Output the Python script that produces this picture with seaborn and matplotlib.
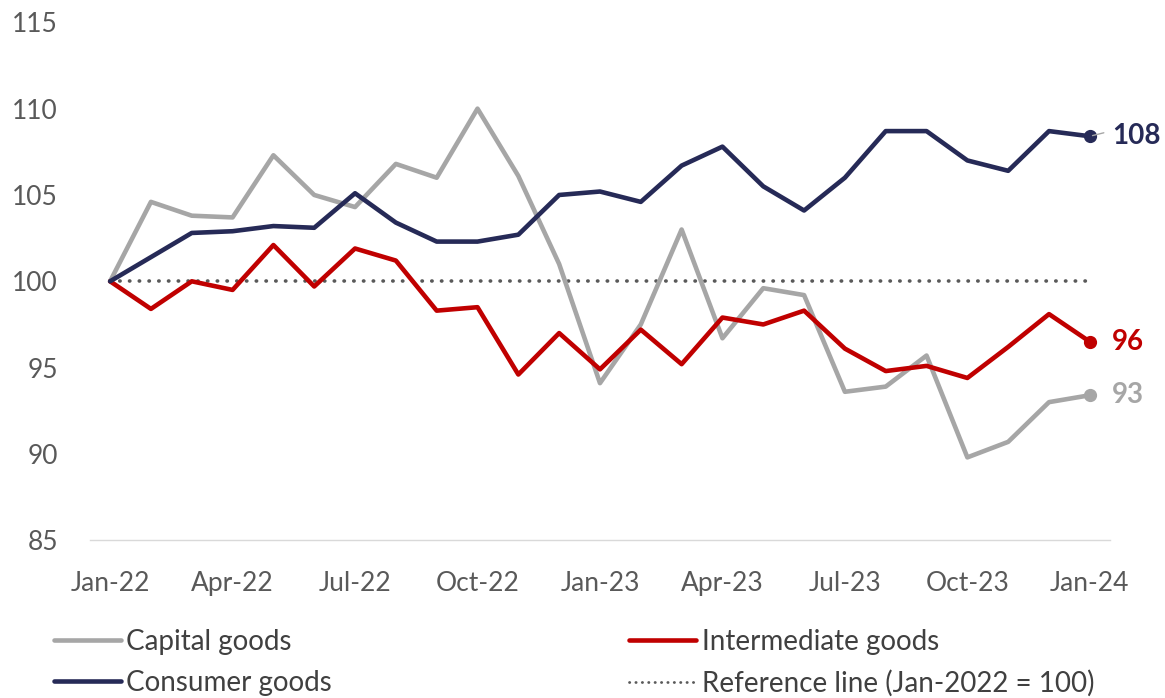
import numpy as np
import pandas as pd
import seaborn as sns
import matplotlib.pyplot as plt
from matplotlib.lines import Line2D

# monthly index values, Jan-2022 = 100
months = pd.date_range('2022-01-01', '2024-01-01', freq='MS').strftime('%b-%y').tolist()

capital = [100.0, 104.6, 103.8, 103.7, 107.3, 105.0, 104.3, 106.8, 106.0, 110.0,
           106.1, 101.0, 94.1, 97.5, 103.0, 96.7, 99.6, 99.2, 93.6, 93.9,
           95.7, 89.8, 90.7, 93.0, 93.4]
consumer = [100.0, 101.4, 102.8, 102.9, 103.2, 103.1, 105.1, 103.4, 102.3, 102.3,
            102.7, 105.0, 105.2, 104.6, 106.7, 107.8, 105.5, 104.1, 106.0, 108.7,
            108.7, 107.0, 106.4, 108.7, 108.4]
intermediate = [100.0, 98.4, 100.0, 99.5, 102.1, 99.7, 101.9, 101.2, 98.3, 98.5,
                94.6, 97.0, 94.9, 97.2, 95.2, 97.9, 97.5, 98.3, 96.1, 94.8,
                95.1, 94.4, 96.2, 98.1, 96.5]
reference = [100.0] * len(months)

series_names = ['Capital goods', 'Consumer goods', 'Intermediate goods']
colors = {'Capital goods': '#A6A6A6', 'Consumer goods': '#262A57', 'Intermediate goods': '#C00000'}

df = pd.DataFrame({
    'idx': list(range(len(months))) * 3,
    'value': capital + consumer + intermediate,
    'series': np.repeat(series_names, len(months)),
})

sns.set_theme(style='white')
plt.rcParams['font.family'] = ['Lato', 'DejaVu Sans']

fig = plt.figure(figsize=(11.65, 6.98), dpi=100)
ax = fig.add_axes([0.077, 0.226, 0.876, 0.742])

# reference line first so it sits beneath the series
ax.plot(range(len(months)), reference, color='#595959', lw=2.6,
        linestyle=(0, (0.1, 2.6)), dash_capstyle='round', zorder=1)

sns.lineplot(data=df, x='idx', y='value', hue='series', palette=colors,
             hue_order=['Capital goods', 'Intermediate goods', 'Consumer goods'],
             lw=3.3, legend=False, ax=ax, zorder=2)

# end point markers and labels
last = len(months) - 1
for name, vals in [('Capital goods', capital), ('Intermediate goods', intermediate),
                   ('Consumer goods', consumer)]:
    ax.plot(last, vals[-1], 'o', color=colors[name], ms=8.5, zorder=3)
    ax.annotate(f'{vals[-1]:.0f}', xy=(last, vals[-1]), xytext=(16, 0),
                textcoords='offset points', va='center', ha='left',
                fontsize=20, fontweight='bold', color=colors[name])
# small leader line for the top label
ax.annotate('', xy=(last, consumer[-1]), xytext=(12, 3), textcoords='offset points',
            arrowprops=dict(arrowstyle='-', color='#A6A6A6', lw=1))

ax.set_xlim(-0.5, len(months) - 0.5)
ax.set_ylim(85, 115)
ax.set_yticks(range(85, 116, 5))
tick_pos = list(range(0, len(months), 3))
ax.set_xticks(tick_pos)
ax.set_xticklabels([months[i] for i in tick_pos])
ax.tick_params(axis='both', length=0, labelsize=19, colors='#595959')
ax.tick_params(axis='x', pad=22)
ax.tick_params(axis='y', pad=23)
ax.set_xlabel('')
ax.set_ylabel('')
for s in ['top', 'right', 'left']:
    ax.spines[s].set_visible(False)
ax.spines['bottom'].set_color('#D9D9D9')
ax.spines['bottom'].set_linewidth(1)

handles = [
    Line2D([], [], color=colors['Capital goods'], lw=3.3),
    Line2D([], [], color=colors['Consumer goods'], lw=3.3),
    Line2D([], [], color=colors['Intermediate goods'], lw=3.3),
    Line2D([], [], color='#595959', lw=2, linestyle=(0, (0.1, 2.2)), dash_capstyle='round'),
]
labels = ['Capital goods', 'Consumer goods', 'Intermediate goods', 'Reference line (Jan-2022 = 100)']
leg = fig.legend(handles, labels, loc='upper left', bbox_to_anchor=(0.025, 0.135),
                 ncol=2, frameon=False, fontsize=20, handlelength=2.4, handletextpad=0.2,
                 columnspacing=10.7, labelspacing=0.55, labelcolor='#404040')

plt.savefig('out.png', dpi=100)
